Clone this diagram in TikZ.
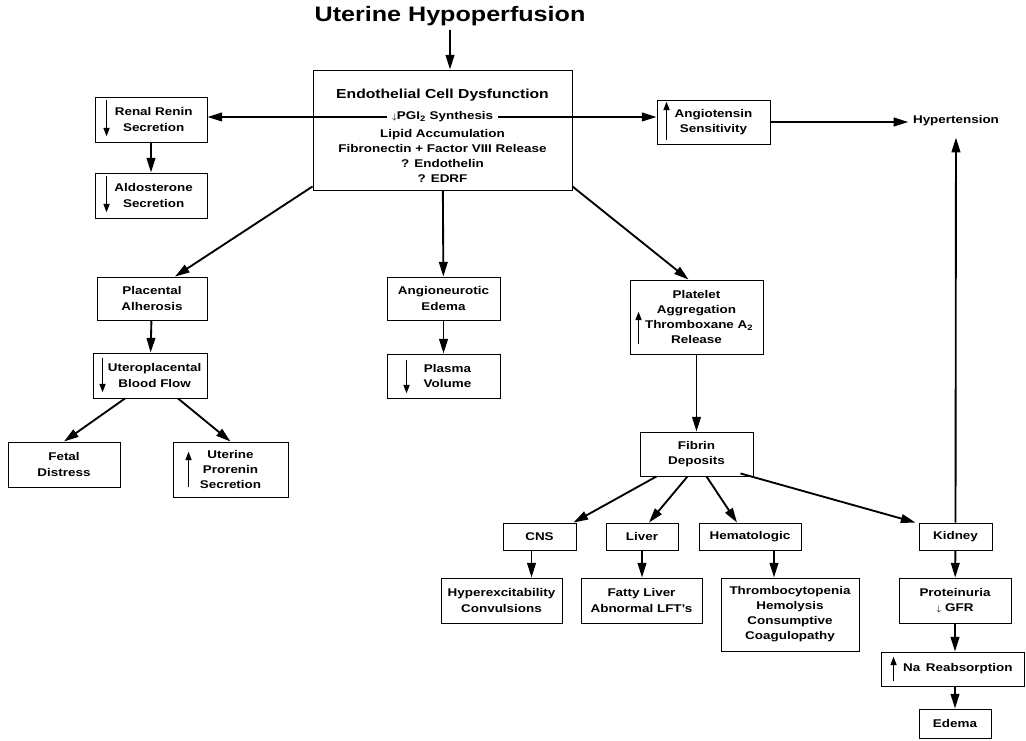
\documentclass[tikz,border=0pt]{standalone}
\usepackage{fontspec}
\setmainfont{Liberation Sans}[FakeStretch=1.2]
\usetikzlibrary{arrows.meta,calc}

\begin{document}
\begin{tikzpicture}[x=0.75pt,y=-0.75pt,
    every node/.style={font=\bfseries\fontsize{8.4}{11.3}\selectfont},
    box/.style={draw,line width=0.7pt,align=center,inner sep=0pt,
        minimum width=84pt,minimum height=33.75pt},
    arr/.style={line width=1.4pt,-{Triangle[length=11pt,width=6.5pt]}},
    boxarr/.style={line width=1.3pt,-{Triangle[length=6.5pt,width=4.5pt]}}]
    \useasboundingbox (0,0) rectangle (1026,741);

    \node[font=\bfseries\fontsize{15.7}{18}\selectfont] (uterine) at (450,16) {Uterine Hypoperfusion};

    \node[box,minimum width=194.25pt,minimum height=90pt] (endo) at (442.5,130) {};
    \node[font=\bfseries\fontsize{9.8}{11}\selectfont] (endotitle) at (442.5,95) {Endothelial Cell Dysfunction};
    \node (pgi) at (442.5,117) {{\fontsize{6}{6}\selectfont$\downarrow$}PGI\textsubscript{2} Synthesis};
    \node[align=center] (endolist) at (442.5,156) {Lipid Accumulation\\Fibronectin + Factor VIII Release\\? Endothelin\\? EDRF};

    \node[box] (renal) at (151,119.5) {\hspace*{4pt}Renal Renin\\\hspace*{4pt}Secretion};
    \node[box] (aldo) at (151,195.5) {\hspace*{4pt}Aldosterone\\\hspace*{4pt}Secretion};
    \node[box,minimum width=84.75pt,minimum height=33pt] (angio) at (713.5,122) {Angiotensin\\Sensitivity};
    \node (hyper) at (956,121) {Hypertension};

    \node[box,minimum width=82.5pt,minimum height=32.25pt] (plac) at (152,298.5) {Placental\\Alherosis};
    \node[box,minimum width=84.75pt,minimum height=32.25pt] (angioneu) at (443.5,298.5) {Angioneurotic\\Edema};
    \node[box,minimum width=99.75pt,minimum height=55.5pt] (platelet) at (696.5,317) {Platelet\\Aggregation\\\hspace*{4pt}Thromboxane A\textsubscript{2}\\Release};
    \node[box,minimum width=85.5pt] (utero) at (150,375.5) {\hspace*{7pt}Uteroplacental\\\hspace*{7pt}Blood Flow};
    \node[box,minimum width=84.75pt,minimum height=33pt] (plasma) at (443.5,376) {\hspace*{6pt}Plasma\\\hspace*{6pt}Volume};
    \node[box] (fetal) at (64,464.5) {Fetal\\Distress};
    \node[box,minimum width=86.25pt,minimum height=41.25pt] (prorenin) at (230.5,469.5) {Uterine\\Prorenin\\Secretion};

    \node[box,minimum width=84.75pt,minimum height=33pt] (fibrin) at (696.5,454) {Fibrin\\Deposits};
    \node[box,minimum width=54.75pt,minimum height=20.25pt] (cns) at (539.5,536.5) {CNS};
    \node[box,minimum width=54pt,minimum height=20.25pt] (liver) at (642,536.5) {Liver};
    \node[box,minimum width=76.5pt,minimum height=20.25pt] (hemat) at (750,536.5) {Hematologic};
    \node[box,minimum width=54.75pt,minimum height=20.25pt] (kidney) at (955.5,536.5) {Kidney};
    \node[box,minimum width=90.75pt] (hyperex) at (501.5,600.5) {Hyperexcitability\\Convulsions};
    \node[box,minimum width=90.75pt] (fatty) at (641.5,600.5) {Fatty Liver\\Abnormal LFT's};
    \node[box,minimum width=103.5pt,minimum height=54.75pt] (thrombo) at (790,614.5) {Thrombocytopenia\\Hemolysis\\Consumptive\\Coagulopathy};
    \node[box] (protein) at (955,600.5) {Proteinuria\\{\fontsize{6}{6}\selectfont$\downarrow$} GFR};
    \node[box,minimum width=107.25pt,minimum height=25.5pt] (na) at (952.5,669) {\hspace*{8pt}Na\enspace Reabsorption};
    \node[box,minimum width=54pt,minimum height=21.75pt] (edema) at (955,723.5) {Edema};

    \draw[arr] (uterine) -- (uterine |- endo.north);
    \draw[arr] (pgi.west) -- (pgi.west -| renal.east);
    \draw[arr] (pgi.east) -- (pgi.east -| angio.west);
    \draw[arr] (angio.east) -- (angio.east -| hyper.west);
    \draw[arr] (renal) -- (aldo);
    \draw[arr] ($(endo.south west)+(0,-4)$) -- ($(plac.north)+(23,0)$);
    \draw[arr] (endo) -- (angioneu);
    \draw[arr] ($(endo.south east)+(0,-4)$) -- ($(platelet.north)+(-8,0)$);
    \draw[arr] (plac) -- (utero);
    \draw[arr] (angioneu) -- (plasma);
    \draw[arr] (platelet) -- (fibrin);
    \draw[arr] ($(utero.south)+(-25,0)$) -- (fetal.north);
    \draw[arr] ($(utero.south)+(28,0)$) -- (prorenin.north);
    \draw[arr] ($(fibrin.south)+(-40,0)$) -- ($(cns.north east)+(-3,0)$);
    \draw[arr] ($(fibrin.south)+(-9,0)$) -- ($(liver.north)+(7,0)$);
    \draw[arr] ($(fibrin.south)+(10,0)$) -- ($(hemat.north)+(-13,0)$);
    \draw[arr] ($(fibrin.south east)+(-13,-3)$) -- ($(kidney.north west)+(-3,0)$);
    \draw[arr] ($(cns.south)+(-8,0)$) -- ($(hyperex.north -| cns.south)+(-8,0)$);
    \draw[arr] (liver) -- (liver |- fatty.north);
    \draw[arr] ($(hemat.south)+(24,0)$) -- ($(thrombo.north -| hemat.south)+(24,0)$);
    \draw[arr] (kidney) -- (protein);
    \draw[arr] (protein) -- (protein |- na.north);
    \draw[arr] (edema |- na.south) -- (edema);
    \draw[arr,shorten >=5pt] (kidney) -- (hyper);

    \draw[boxarr] ($(renal.north west)+(12,3)$) -- ($(renal.south west)+(12,-6)$);
    \draw[boxarr] ($(aldo.north west)+(12,3)$) -- ($(aldo.south west)+(12,-6)$);
    \draw[boxarr] ($(angio.south west)+(10,-4)$) -- ($(angio.north west)+(10,2)$);
    \draw[boxarr] ($(utero.north west)+(10,5)$) -- ($(utero.south west)+(10,-6)$);
    \draw[boxarr] ($(plasma.north west)+(20,6)$) -- ($(plasma.south west)+(20,-5)$);
    \draw[boxarr] ($(prorenin.south west)+(16,-10)$) -- ($(prorenin.north west)+(16,10)$);
    \draw[boxarr] ($(platelet.south west)+(9,-10)$) -- ($(platelet.north west)+(9,32)$);
    \draw[boxarr] ($(na.south west)+(13,-5)$) -- ($(na.north west)+(13,5)$);
\end{tikzpicture}
\end{document}
